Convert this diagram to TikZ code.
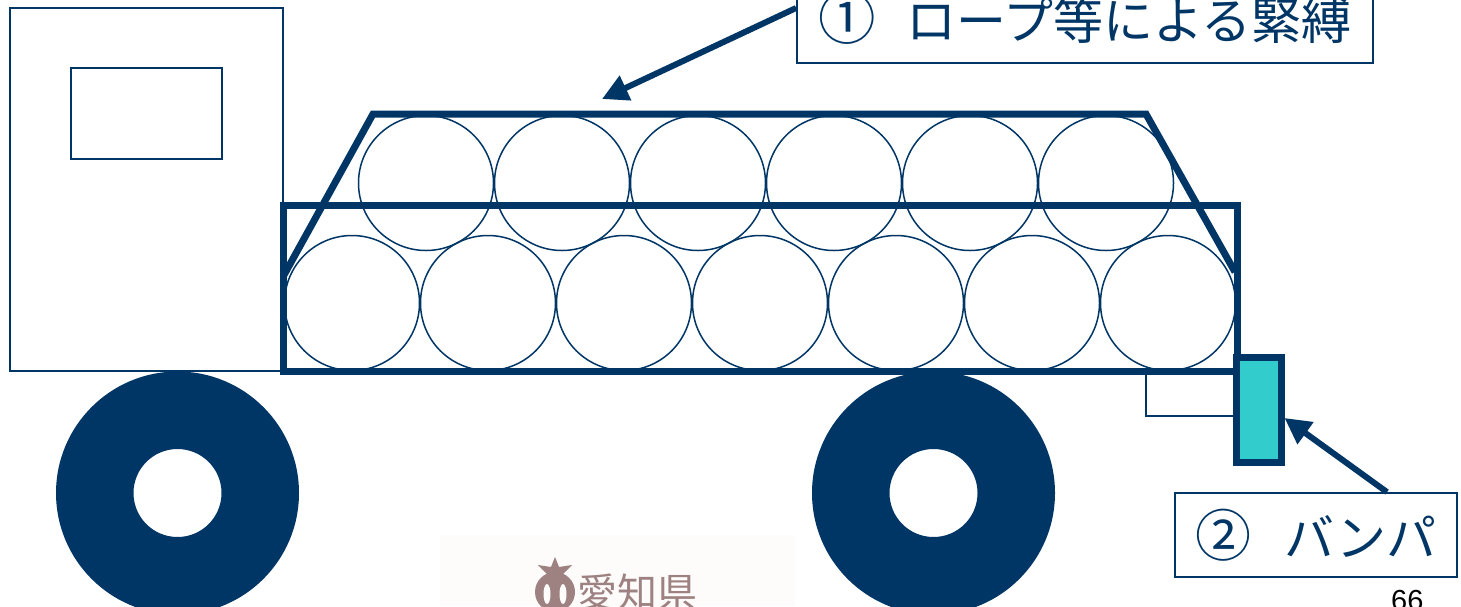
\documentclass[tikz,border=0pt]{standalone}
\usepackage{fontspec}
\newfontfamily\jp{Noto Sans CJK JP}
\newfontfamily\numfont{Liberation Sans}
\usetikzlibrary{arrows.meta}
\definecolor{navy}{RGB}{0,54,102}
\definecolor{bumpercyan}{RGB}{51,204,204}
\definecolor{logobrown}{RGB}{158,130,130}
\definecolor{logobg}{RGB}{253,252,251}

\begin{document}
\begin{tikzpicture}[x=1pt,y=-1pt,
  thinline/.style={draw=navy,line width=2pt},
  thickline/.style={draw=navy,line width=7pt},
  load/.style={draw=navy,line width=1.5pt},
  labelbox/.style={draw=navy,line width=1.8pt,fill=white,inner sep=0pt,
    text=navy,font=\jp\fontsize{50}{60}\selectfont},
  pointer/.style={draw=navy,line width=6pt,-{Triangle[length=26pt,width=26pt]}}]

\fill[white] (0,0) rectangle (1461,606);
\useasboundingbox (0,0) rectangle (1461,606);

% logo backdrop
\fill[logobg] (440,535) rectangle (795,606);

% wheels
\fill[navy,even odd rule] (177.5,493) circle (121.5pt) (177.5,493) circle (44pt);
\fill[navy,even odd rule] (933.5,493) circle (121.5pt) (933.5,493) circle (44pt);

% cab and window
\draw[thinline] (10,8) rectangle (283,371);
\draw[thinline] (71,68) rectangle (222,159);

% load: two rows of coils
\foreach \i in {0,...,6}
  \draw[load] (352+136*\i,303) circle (67.5pt);
\foreach \i in {0,...,5}
  \draw[load] (426+136*\i,183) circle (67.5pt);

% cargo bed
\draw[thickline] (283,205) rectangle (1237,371);

% rope lashing
\draw[thickline] (284,275) -- (373,114) -- (1146,114) -- (1235,272);

% bumper bracket and bumper
\draw[navy,line width=1.5pt] (1146,371) -- (1146,416) -- (1237,416);
\node[draw=navy,line width=7pt,fill=bumpercyan,minimum width=45pt,
  minimum height=105pt,inner sep=0pt] (bumper) at (1258.5,409.5) {};

% labels and pointers
\node[labelbox,minimum width=576pt,minimum height=90pt] (lab1) at (1085,18)
  {\raisebox{-5pt}{\scalebox{1.15}{①}\hspace{30pt}ロープ等による緊縛}};
\coordinate (a1) at (602,99);
\draw[pointer] ([yshift=10pt]lab1.west) -- (a1);

\node[labelbox,minimum width=282pt,minimum height=84pt] (lab2) at (1316,535)
  {\scalebox{1.12}{②}\hspace{33pt}バンパ};
\draw[pointer] ([xshift=71pt]lab2.north) -- ([yshift=-8.5pt]bumper.east);

% page number
\node[font=\numfont\fontsize{29}{34}\selectfont,anchor=north west,inner sep=0pt]
  (pagenum) at (1391,590) {66};

% prefecture emblem and name
\begin{scope}[logobrown]
  \fill (555,592) circle (20pt);
  \fill[logobg] (547,594) ellipse (3.5pt and 10pt);
  \fill[logobg] (563,594) ellipse (3.5pt and 10pt);
  \fill (555,557) -- (559,567) -- (572,565) -- (562,575) -- (555,582)
    -- (548,575) -- (538,565) -- (551,567) -- cycle;
\end{scope}
\node[anchor=west,inner sep=0pt,text=logobrown,font=\jp\fontsize{40}{48}\selectfont]
  (logotext) at (577,592) {愛知県};
\end{tikzpicture}
\end{document}
